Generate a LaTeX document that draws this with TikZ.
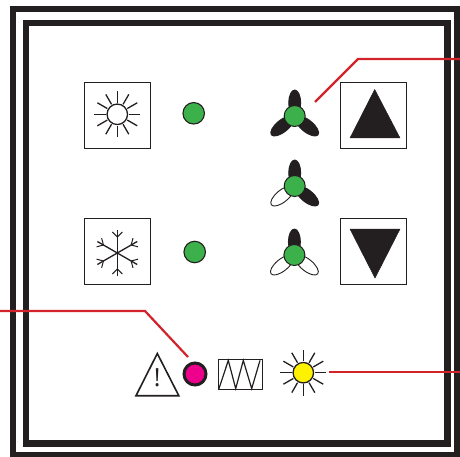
\documentclass[tikz,border=0pt]{standalone}
\usepackage{fontspec}
\setsansfont{Open Sans}
\definecolor{ink}{HTML}{231F20}
\definecolor{ledgreen}{HTML}{3CB04A}
\definecolor{ledmagenta}{HTML}{EC008C}
\definecolor{ledyellow}{HTML}{FFF200}
\definecolor{leader}{HTML}{D2232A}
\tikzset{
  x=1pt,y=-1pt,
  frame/.style={draw=ink,line width=6.5pt,miter limit=10},
  iconbox/.style={draw=ink,line width=1.7pt,fill=white,minimum size=66pt,inner sep=0pt,shape=rectangle},
  led/.style={circle,draw=ink,line width=1.1pt,fill=ledgreen,minimum size=21.5pt,inner sep=0pt},
  hub/.style={circle,draw=ink,line width=1pt,fill=ledgreen,minimum size=21pt,inner sep=0pt},
  alarm/.style={circle,draw=ink,line width=3pt,fill=ledmagenta,minimum size=22pt,inner sep=0pt},
  lamp/.style={circle,draw=ink,line width=1.3pt,fill=ledyellow,minimum size=20.5pt,inner sep=0pt},
  ray/.style={draw=ink,line width=1.3pt},
  solidtri/.style={fill=ink,draw=ink,line width=.5pt,line join=round},
  leaderline/.style={draw=leader,line width=2.2pt},
  bladeon/.style={fill=ink,draw=ink,line width=.9pt},
  bladeoff/.style={fill=white,draw=ink,line width=.9pt},
}
\newcommand{\sunrays}[1]{%
  \foreach \a in {0,30,...,330}{\draw[ray] (#1)+(\a:11.5) -- +(\a:23);}}
\newcommand{\fanblades}[4]{%
  \begin{scope}[shift={(#1)}]
    \draw[#2] (0,-13) ellipse [x radius=6,y radius=13];
    \draw[#3,rotate=39] (-16,0) ellipse [x radius=14,y radius=6];
    \draw[#4,rotate=-39] (16,0) ellipse [x radius=14,y radius=6];
  \end{scope}}
\begin{document}
\begin{tikzpicture}
\useasboundingbox (0,0) rectangle (460,457);
\fill[white] (0,0) rectangle (460,457);
% frames
\draw[frame] (13.2,9.2) rectangle (457.5,455);
\draw[frame] (26.2,23) rectangle (447.6,443.5);
% leader lines
\coordinate (fanend) at (315,102);
\coordinate (fanknee) at (358,59);
\coordinate (fanout) at (460,59);
\coordinate (alarmknee) at (145,311);
\coordinate (alarmout) at (0,311);
\coordinate (alarmend) at (188,357);
\coordinate (lampend) at (329,372);
\coordinate (lampout) at (460,372);
\draw[leaderline] (fanend) -- (fanknee) -- (fanout);
\draw[leaderline] (alarmout) -- (alarmknee) -- (alarmend);
\draw[leaderline] (lampend) -- (lampout);
% heat box
\node[iconbox] (heatbox) at (117.5,115.5) {};
\coordinate (heatc) at (117.3,114.3);
\sunrays{heatc}
\node[circle,draw=ink,line width=1.3pt,fill=white,minimum size=20.5pt,inner sep=0pt] (heatsun) at (heatc) {};
\node[led] (ledheat) at (193.7,113.3) {};
% cool box
\node[iconbox] (coolbox) at (117.5,251.5) {};
\coordinate (snow) at (117.3,253);
\foreach \a in {30,90,...,330}{
  \begin{scope}[shift={(snow)},rotate=\a]
    \draw[ray] (0,0) -- (23,0);
    \draw[ray,line width=1pt] (16,0) -- (21,-5);
    \draw[ray,line width=1pt] (16,0) -- (21,5);
  \end{scope}}
\node[led] (ledcool) at (194.7,252) {};
% fans
\fanblades{294.7,116}{bladeon}{bladeon}{bladeon}
\node[hub] (fanhigh) at (294.7,116) {};
\fanblades{294.7,186}{bladeon}{bladeoff}{bladeon}
\node[hub] (fanmid) at (294.7,186) {};
\fanblades{294.4,255}{bladeon}{bladeoff}{bladeoff}
\node[hub] (fanlow) at (294.4,255) {};
% arrow boxes
\node[iconbox] (upbox) at (373.5,115.5) {};
\fill[solidtri] (374.7,89.5) -- (400,138) -- (350,138) -- cycle;
\node[iconbox] (downbox) at (373.5,251.5) {};
\fill[solidtri] (350,229) -- (400,229) -- (375,278) -- cycle;
% bottom row
\draw[draw=ink,line width=1.6pt,line join=miter,fill=white] (157.3,353.5) -- (178.8,395.7) -- (136,395.7) -- cycle;
\node[inner sep=0pt,text=ink,font=\sffamily\fontsize{25}{25}\selectfont] (warnmark) at (157.3,378) {!};
\node[alarm] (ledalarm) at (195,374) {};
\node[draw=ink,line width=1.6pt,fill=white,minimum width=44pt,minimum height=30pt,inner sep=0pt] (heater) at (240.5,374.5) {};
\draw[draw=ink,line width=1.2pt,line join=miter] (219,388.6) -- (228.3,360.4) -- (235.7,388.6) -- (243.3,360.4) -- (251.7,388.6) -- (260,360.4);
\coordinate (lampc) at (303.3,372.7);
\sunrays{lampc}
\node[lamp] (lamp) at (lampc) {};
\end{tikzpicture}
\end{document}
